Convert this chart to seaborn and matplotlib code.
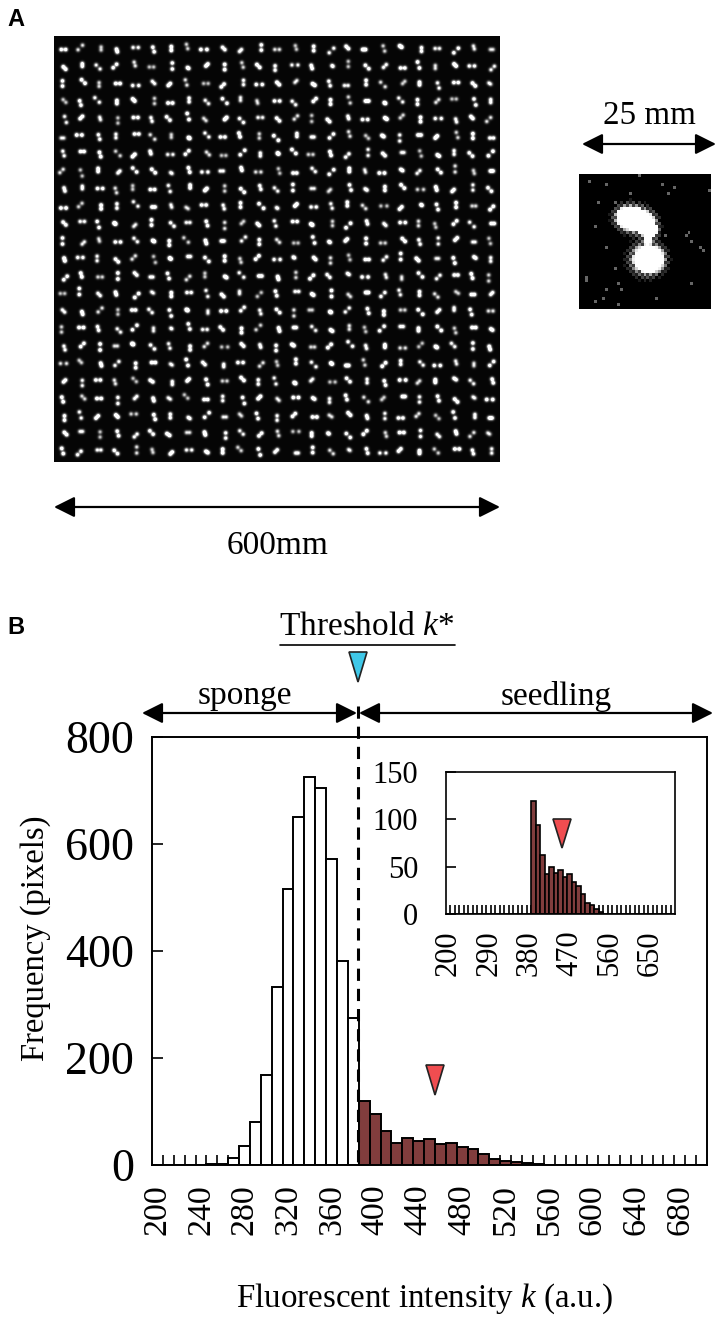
import numpy as np
import pandas as pd
import matplotlib
matplotlib.use("Agg")
import matplotlib.pyplot as plt
from matplotlib.patches import FancyArrowPatch, Polygon
from matplotlib.lines import Line2D
import seaborn as sns

W, H = 721, 1322

sns.set_style("ticks")
plt.rcParams['font.family'] = ['Liberation Serif', 'DejaVu Serif']
plt.rcParams['mathtext.fontset'] = 'custom'
plt.rcParams['mathtext.it'] = 'Liberation Serif:italic'
plt.rcParams['mathtext.rm'] = 'Liberation Serif'
plt.rcParams['text.color'] = 'black'
plt.rcParams['xtick.color'] = 'black'
plt.rcParams['ytick.color'] = 'black'
plt.rcParams['axes.edgecolor'] = 'black'

# histogram, bins of 10 a.u. from 200 to 700
bins = list(range(200, 710, 10))
freq = [0, 0, 0, 0, 0, 1, 2, 14, 36, 80, 168, 332, 515, 650, 725, 705, 572, 382, 275,
        119, 95, 63, 42, 50, 44, 48, 39, 42, 34, 30, 21, 12, 8, 6, 3, 1,
        0, 0, 0, 0, 0, 0, 0, 0, 0, 0, 0, 0, 0, 0, 0]
# inset shows only the seedling side of the threshold
inset_freq = [0] * 19 + [119, 94, 62, 42, 50, 43, 47, 39, 42, 34, 30, 21, 12, 9, 5, 2,
                         0, 0, 0, 0, 0, 0, 0, 0, 0, 0, 0, 0, 0, 0, 0, 0]
threshold_bin = 390
main_labels = list(range(200, 700, 40))
inset_labels = list(range(200, 700, 90))
main_yticks = [0, 200, 400, 600, 800]
inset_yticks = [0, 50, 100, 150]

# spot shapes on the 25 x 24 sponge grid, read row by row
# - flat, | upright, / and \ slanted, : two dots, o round
spot_rows = [
    "-/|:-:|:-\\/|-:|/\\-:o|-/:-",
    "\\|\\/:-|o/|:\\|-:o|\\/-:|\\-/",
    "|\\|--\\/:-/|-\\/o:-|\\/|:-\\o",
    "\\:\\|\\|-|\\\\|:-\\/|:-o\\|/-:|",
    ":/:|-:\\:\\/\\-\\/|\\:-o/|-:\\/",
    "--:|-\\|o\\-:|\\|-/:\\o|-/:|-",
    ":-:\\/:-/\\-/|o\\-:/|\\-:o|\\/",
    "/:|/\\\\o:--:-:-\\/|:-o/\\|:-",
    ":|-:|-:|/|\\:\\|-/:o|\\-:/|\\",
    "-/||\\-:o-:|\\o/-:|\\-/o:|-/",
    "\\-:o/|\\-:|/\\:-o|/:\\-|:/\\-",
    "|/:-\\o|\\:-/|\\-:o/|-\\:|/-:",
    ":-|\\/:o-\\|:/-o\\|:-/|\\-:o|",
    "/:-|\\-:/|o\\-:|/\\o-:|\\/-:|",
    "-|\\:/o|-:\\|/:-o|\\-/:|\\o-/",
    "\\:/|-\\:o|-/:\\|-o/:|-\\/|:-",
    "|-:\\/|o:-\\|/:-\\o|:/-|\\:-o",
    ":/|-o\\:|/-\\:|o-/\\:|-/o\\|:",
    "-\\:/|-o:\\|-/:|\\o-:/|\\-:|/",
    "/|-:\\o|/:-\\|:o/-\\|:-/|o\\:",
    ":\\-|/:o\\-|:/\\-o|:\\/-|:\\o-",
    "|:/\\-:|o/-\\:|/-o\\:|-/\\:|-",
    "\\-|:/\\o-:|\\/:-|o\\/:-|\\:/o",
    ":/-\\|:/-o|\\:/-|\\o:-/|\\-:|",
]
spot_dirs = {'-': (1.0, 0.0), '|': (0.0, 1.0), '/': (0.75, -0.75),
             '\\': (0.75, 0.75), ':': (0.3, 1.0), 'o': (0.45, 0.3)}
row_shift = [1, -1, 0, 2, -1, 1, 0, -2, 1, 0, 2, -1]
col_shift = [0, 1, -1, 1, 2, -1, 0, -2, 1]
spot_gain = [1.0, 0.8, 1.1, 0.65, 1.0, 0.9, 0.55, 1.1, 0.75, 1.0, 0.6]
spot_len = [2.2, 1.6, 2.6, 1.9, 3.0, 1.4, 2.3]

# seedling close up: two lobes and stray speckles, in 0-1 image coordinates
lobe_x = [0.35, 0.42, 0.50, 0.54, 0.52, 0.50, 0.56]
lobe_y = [0.32, 0.33, 0.36, 0.42, 0.49, 0.63, 0.63]
lobe_size = [0.048, 0.055, 0.052, 0.035, 0.016, 0.066, 0.055]
speck_x = [0.08, 0.15, 0.22, 0.27, 0.38, 0.46, 0.63, 0.72, 0.80, 0.86, 0.93, 0.99, 0.13, 0.06,
           0.20, 0.27, 0.65, 0.68, 0.84, 0.95, 0.32, 0.20, 0.06, 0.13, 0.30, 0.58, 0.18, 0.86, 0.30]
speck_y = [0.06, 0.20, 0.08, 0.22, 0.14, 0.01, 0.07, 0.11, 0.46, 0.50, 0.55, 0.12, 0.39, 0.79,
           0.55, 0.71, 0.45, 0.14, 0.44, 0.56, 0.85, 0.86, 0.76, 0.94, 0.82, 0.93, 0.92, 0.81, 0.96]


def box(x0, y0, x1, y1):
    # pixel box, top left origin, to figure fractions
    return [x0 / W, 1 - y1 / H, (x1 - x0) / W, (y1 - y0) / H]


def fx(x):
    return x / W


def fy(y):
    return 1 - y / H


def arrow(fig, x0, x1, y):
    fig.add_artist(FancyArrowPatch((fx(x0), fy(y)), (fx(x1), fy(y)), transform=fig.transFigure,
                                   arrowstyle='<|-|>,head_length=0.9,head_width=0.45', mutation_scale=14,
                                   lw=1.6, color='black', shrinkA=0, shrinkB=0))


def tri(fig, x, y0, y1, half, color):
    fig.add_artist(Polygon([(fx(x - half), fy(y0)), (fx(x + half), fy(y0)), (fx(x), fy(y1))],
                           closed=True, transform=fig.transFigure, facecolor=color,
                           edgecolor='#222222', lw=1.2, zorder=6))


def sponge_image():
    h, w = 426, 446
    yy, xx = np.mgrid[0:h, 0:w]
    img = np.zeros((h, w)) + 0.015
    for r, row in enumerate(spot_rows):
        for c, ch in enumerate(row):
            cx = 9 + c * 17.8 + col_shift[(r + 2 * c) % len(col_shift)]
            cy = 12 + r * 17.5 + row_shift[(3 * r + c) % len(row_shift)]
            dx, dy = spot_dirs[ch]
            gain = spot_gain[(2 * r + 3 * c) % len(spot_gain)]
            length = spot_len[(r + 4 * c) % len(spot_len)]
            for s in (-length, length):
                d2 = (xx - cx - s * dx) ** 2 + (yy - cy - s * dy) ** 2
                img += gain * np.exp(-d2 / (2 * 1.45 ** 2))
    return np.clip(img * 1.4, 0, 1)


def seedling_image():
    n = 45
    ii, jj = np.mgrid[0:n, 0:n]
    yy, xx = (ii + 0.5) / n, (jj + 0.5) / n
    img = np.zeros((n, n))
    for x, y, s in zip(lobe_x, lobe_y, lobe_size):
        img += np.exp(-((xx - x) ** 2 + (yy - y) ** 2) / (2 * s ** 2)) * 2.2
    img = np.clip(img, 0, 1)
    # noisy rim of the lobes
    rim = (img < 0.8) & ((ii + jj) % 2 == 0)
    img[rim] *= 0.35
    img[img < 0.1] = 0
    for x, y in zip(speck_x, speck_y):
        img[min(int(y * n), n - 1), min(int(x * n), n - 1)] = 0.4
    return img


def draw_hist(ax, values, lw):
    df = pd.DataFrame({'k': bins, 'freq': values})
    df['part'] = np.where(df['k'] >= threshold_bin, 'seedling', 'sponge')
    sns.barplot(data=df, x='k', y='freq', hue='part', dodge=False, width=1.0,
                palette={'sponge': 'white', 'seedling': '#8c3232'},
                edgecolor='black', linewidth=lw, legend=False, ax=ax)
    ax.set_xlim(-0.5, len(bins) - 0.5)
    ax.set_xlabel('')
    ax.set_ylabel('')
    ax.set_xticks(np.arange(0.5, len(bins) - 1), minor=True)
    for side in ax.spines.values():
        side.set_visible(True)
        side.set_linewidth(lw)


fig = plt.figure(figsize=(W / 100, H / 100), dpi=100, facecolor='white')

# panel A
ax_a = fig.add_axes(box(54, 36, 500, 462))
sns.heatmap(sponge_image(), cmap='gray', vmin=0, vmax=1, cbar=False, ax=ax_a,
            xticklabels=False, yticklabels=False, rasterized=True)
ax_s = fig.add_axes(box(579, 174, 711, 309))
sns.heatmap(seedling_image(), cmap='gray', vmin=0, vmax=1, cbar=False, ax=ax_s,
            xticklabels=False, yticklabels=False, rasterized=True)

arrow(fig, 582, 716, 144)
arrow(fig, 54, 500, 507)
fig.text(fx(649), fy(116), '25 mm', fontsize=23.8, ha='center', va='center')
fig.text(fx(278), fy(546), '600mm', fontsize=24, ha='center', va='center')
fig.text(fx(7), fy(20), 'A', fontsize=17, fontweight='bold', family='Liberation Sans', va='center')
fig.text(fx(7), fy(628), 'B', fontsize=17, fontweight='bold', family='Liberation Sans', va='center')

# panel B, main histogram
ax = fig.add_axes(box(152, 737, 707, 1165))
draw_hist(ax, freq, 1.4)
ax.set_ylim(0, 800)
ax.set_yticks(main_yticks)
ax.set_xticks([bins.index(v) for v in main_labels])
ax.set_xticklabels(main_labels, rotation=90, fontsize=24.5)
ax.tick_params(axis='x', which='major', length=0, pad=14)
ax.tick_params(axis='x', which='minor', direction='in', length=7.5, width=1.2)
ax.tick_params(axis='y', direction='in', length=8, width=1.2, labelsize=33, pad=13)
fig.text(fx(36), fy(938), 'Frequency (pixels)', rotation=90, fontsize=23.5, ha='center', va='center')
fig.text(fx(425), fy(1299), r'Fluorescent intensity $\mathit{k}$ (a.u.)', fontsize=23.8, ha='center', va='center')

# threshold marks
fig.add_artist(Line2D([fx(358), fx(358)], [fy(706), fy(1165)], transform=fig.transFigure,
                      color='black', lw=2.2, ls=(0, (4.0, 2.6)), zorder=5))
arrow(fig, 142, 357, 713)
arrow(fig, 359, 713, 713)
fig.text(fx(367), fy(627), r'Threshold $\mathit{k}$*', fontsize=24, ha='center', va='center')
fig.add_artist(Line2D([fx(280), fx(455)], [fy(645), fy(645)], transform=fig.transFigure, color='black', lw=1.2))
tri(fig, 358, 652, 682, 9, '#3fc8e8')
fig.text(fx(245), fy(696), 'sponge', fontsize=24, ha='center', va='center')
fig.text(fx(556), fy(696), 'seedling', fontsize=24, ha='center', va='center')
tri(fig, 435, 1065, 1095, 9, '#f04d50')

# inset, same bins
ins = fig.add_axes(box(446, 772, 675, 914))
draw_hist(ins, inset_freq, 1.2)
ins.set_ylim(0, 150)
ins.set_yticks(inset_yticks)
ins.set_xticks([bins.index(v) for v in inset_labels])
ins.set_xticklabels(inset_labels, rotation=90, fontsize=22)
ins.tick_params(axis='x', which='major', length=0, pad=12)
ins.tick_params(axis='x', which='minor', direction='in', length=6.5, width=1.2)
ins.tick_params(axis='y', direction='in', length=7, width=1.2, labelsize=22, pad=20)
tri(fig, 562, 819, 848, 9, '#f04d50')

fig.savefig('out.png', dpi=100, facecolor='white')
